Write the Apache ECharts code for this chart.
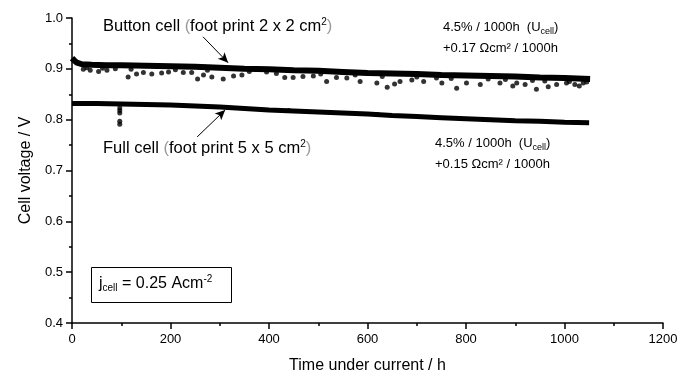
<!DOCTYPE html>
<html><head><meta charset="utf-8">
<script src="https://cdn.jsdelivr.net/npm/echarts@6/dist/echarts.min.js"></script>
<style>html,body{margin:0;padding:0;background:#fff}#c{width:695px;height:376px}</style>
</head><body><div id="c"></div>
<script>
// ---- data ----
const xTicks = [0, 200, 400, 600, 800, 1000, 1200];
const yTicks = [0.4, 0.5, 0.6, 0.7, 0.8, 0.9, 1.0];
const buttonMain = [[0,0.921],[4,0.917],[10,0.912],[20,0.909],[40,0.908],[70,0.907],[100,0.907],[150,0.906],[200,0.905],[250,0.904],[300,0.902],[350,0.900],[400,0.899],[450,0.897],[500,0.896],[550,0.894],[600,0.892],[650,0.891],[700,0.890],[750,0.888],[800,0.887],[850,0.886],[900,0.885],[950,0.883],[1000,0.882],[1052,0.880]];
const buttonScatter = [[23,0.899],[37,0.897],[54,0.895],[71,0.897],[114,0.884],[131,0.890],[145,0.893],[162,0.890],[182,0.892],[196,0.894],[226,0.893],[243,0.893],[255,0.880],[267,0.888],[284,0.884],[307,0.880],[328,0.886],[345,0.888],[432,0.883],[449,0.883],[469,0.885],[490,0.886],[517,0.875],[537,0.883],[558,0.882],[585,0.875],[619,0.872],[640,0.864],[666,0.875],[690,0.878],[714,0.875],[751,0.872],[781,0.862],[801,0.872],[829,0.869],[869,0.872],[903,0.872],[920,0.869],[943,0.860],[967,0.865],[984,0.869],[1004,0.872],[1021,0.869],[1038,0.872],
  [30,0.902],[62,0.901],[88,0.900],[120,0.899],[210,0.898],[275,0.897],[360,0.895],[395,0.894],[415,0.891],[505,0.890],[575,0.888],[630,0.885],[700,0.884],[740,0.882],[770,0.881],[845,0.880],[880,0.879],[935,0.877],[960,0.876],[1010,0.875],[1045,0.874],[655,0.870],[895,0.866],[1030,0.866]];
const fullMain = [[0,0.832],[50,0.832],[100,0.831],[150,0.830],[200,0.829],[250,0.827],[300,0.825],[350,0.822],[400,0.819],[450,0.817],[500,0.815],[550,0.813],[600,0.811],[650,0.808],[700,0.806],[750,0.804],[800,0.802],[850,0.800],[900,0.798],[950,0.797],[1000,0.795],[1050,0.794]];
const fullScatter = [[97,0.823],[97,0.818],[97,0.813],[97,0.797],[97,0.791],[440,0.818],[620,0.810]];
const buttonArrow = [[266,0.963],[317,0.912]];
const fullArrow = [[254,0.766],[311,0.819]];

const FONT = '"Liberation Sans", Arial, Helvetica, sans-serif';
const chart = echarts.init(document.getElementById('c'), null, {renderer:'canvas'});
const AX = {color:'#000', width:1.5};
function baseAxis(extra) {
  return Object.assign({
    type: 'value',
    axisLine: {show: true, lineStyle: AX},
    axisTick: {show: true, length: 6, lineStyle: AX},
    splitLine: {show: false}
  }, extra);
}
function minorAxis(extra) {
  return Object.assign({
    type: 'value',
    axisLine: {show: false},
    axisTick: {show: true, length: 3, lineStyle: AX},
    axisLabel: {show: false},
    splitLine: {show: false}
  }, extra);
}
const GRAY = '#9a9a9a';
const option = {
  animation: false,
  backgroundColor: '#fff',
  grid: {left: 72, right: 32, top: 18, bottom: 53, containLabel: false, outerBoundsMode: 'none'},
  xAxis: [
    baseAxis({min: xTicks[0], max: xTicks[xTicks.length-1], interval: 200,
      name: 'Time under current / h', nameLocation: 'middle', nameGap: 35,
      nameTextStyle: {fontSize: 16, fontFamily: FONT, color: '#000', verticalAlign:'top'},
      axisLabel: {fontSize: 13, fontFamily: FONT, color: '#000', margin: 10, formatter: v => String(v)}}),
    minorAxis({min: xTicks[0], max: xTicks[xTicks.length-1], interval: 100, position:'bottom'})
  ],
  yAxis: [
    baseAxis({min: yTicks[0], max: yTicks[yTicks.length-1], interval: 0.1,
      name: 'Cell voltage / V', nameLocation: 'middle', nameGap: 35,
      nameTextStyle: {fontSize: 16, fontFamily: FONT, color: '#000'},
      axisLabel: {fontSize: 13, fontFamily: FONT, color: '#000', margin: 9, formatter: v => v.toFixed(1)}}),
    minorAxis({min: yTicks[0], max: yTicks[yTicks.length-1], interval: 0.05, position:'left'})
  ],
  series: [
    {type:'line', data: buttonMain, showSymbol:false, lineStyle:{color:'#000', width:6}, z:3,
     markLine: {silent:true, symbol:['none','arrow'], symbolSize:[7,10], label:{show:false},
       lineStyle:{color:'#000', width:1, type:'solid'},
       data:[[{coord: buttonArrow[0]},{coord: buttonArrow[1]}],[{coord: fullArrow[0]},{coord: fullArrow[1]}]]}},
    {type:'scatter', data: buttonScatter, symbolSize: 5, itemStyle:{color:'#000'}, z:3},
    {type:'line', data: fullMain, showSymbol:false, lineStyle:{color:'#000', width:5}, z:3},
    {type:'scatter', data: fullScatter, symbolSize: 5, itemStyle:{color:'#000'}, z:3}
  ],
  graphic: [
    {type:'text', left: 103, top: 17, style:{
      text: '{b|Button cell }{g|(}{b|foot print 2 x 2 cm}{bs|2}{g|)}',
      rich: {b:{fontSize:16.5, fontFamily:FONT, fill:'#000'}, g:{fontSize:16.5, fontFamily:FONT, fill:GRAY},
             bs:{fontSize:10, fontFamily:FONT, fill:'#000', padding:[0,0,9,0]}}}},
    {type:'text', left: 103, top: 139, style:{
      text: '{b|Full cell }{g|(}{b|foot print 5 x 5 cm}{bs|2}{g|)}',
      rich: {b:{fontSize:16.5, fontFamily:FONT, fill:'#000'}, g:{fontSize:16.5, fontFamily:FONT, fill:GRAY},
             bs:{fontSize:10, fontFamily:FONT, fill:'#000', padding:[0,0,9,0]}}}},
    {type:'text', left: 443, top: 19, style:{
      text: '{t|4.5% / 1000h  (U}{s|cell}{t|)}\n{t|+0.17 Ωcm² / 1000h}',
      rich: {t:{fontSize:13, fontFamily:FONT, fill:'#000', lineHeight:21}, s:{fontSize:9, fontFamily:FONT, fill:'#000', padding:[8,0,0,0], lineHeight:21}}}},
    {type:'text', left: 435, top: 135, style:{
      text: '{t|4.5% / 1000h  (U}{s|cell}{t|)}\n{t|+0.15 Ωcm² / 1000h}',
      rich: {t:{fontSize:13, fontFamily:FONT, fill:'#000', lineHeight:21}, s:{fontSize:9, fontFamily:FONT, fill:'#000', padding:[8,0,0,0], lineHeight:21}}}},
    {type:'rect', left: 91, top: 267, shape:{width:140, height:35}, style:{fill:'#fff', stroke:'#000', lineWidth:1}},
    {type:'text', left: 99, top: 274, style:{
      text: '{t|j}{s|cell}{t| = 0.25 Acm}{p|-2}',
      rich: {t:{fontSize:16, fontFamily:FONT, fill:'#000'}, s:{fontSize:10, fontFamily:FONT, fill:'#000', padding:[9,0,0,0]},
             p:{fontSize:10, fontFamily:FONT, fill:'#000', padding:[0,0,9,0]}}}}
  ]
};
chart.setOption(option);
</script></body></html>
